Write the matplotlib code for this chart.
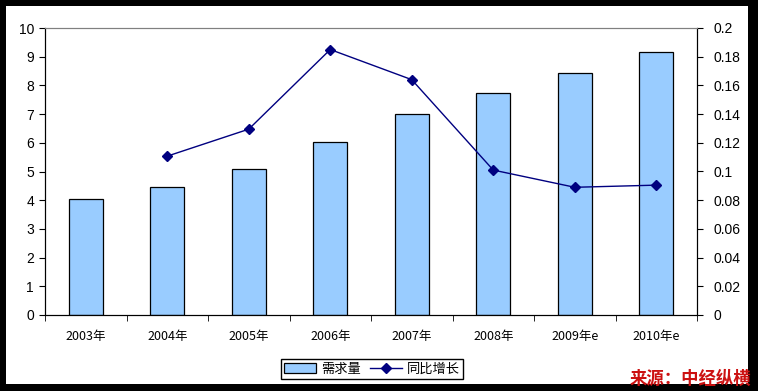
import matplotlib.pyplot as plt
from matplotlib.patches import Rectangle
from matplotlib.ticker import MultipleLocator, FixedLocator
import numpy as np

plt.rcParams['font.family'] = ['Liberation Sans', 'Noto Sans CJK SC', 'DejaVu Sans']

years = ['2003年', '2004年', '2005年', '2006年', '2007年', '2008年', '2009年e', '2010年e']
demand = [4.03, 4.45, 5.08, 6.02, 7.0, 7.73, 8.43, 9.18]
growth = [None, 0.1107, 0.1295, 0.185, 0.164, 0.101, 0.089, 0.0905]

fig = plt.figure(figsize=(7.58, 3.91), dpi=100, facecolor='black')
# white chart area inside black frame
fig.patches.append(Rectangle((6 / 758, 1 - 384 / 391), 742 / 758, 378 / 391,
                             transform=fig.transFigure, facecolor='white',
                             edgecolor='none', zorder=-5))

ax = fig.add_axes([45 / 758, 1 - 315 / 391, 652 / 758, 287 / 391])
ax.set_facecolor('white')
x = np.arange(len(years))
bars = ax.bar(x, demand, width=0.42, color='#99CCFF', edgecolor='black',
              linewidth=0.9, label='需求量', zorder=2)
ax.set_xlim(-0.5, len(years) - 0.5)
ax.set_ylim(0, 10)
ax.yaxis.set_major_locator(MultipleLocator(1))
ax.set_xticks(x)
ax.set_xticklabels(years, fontsize=9, family=['Noto Sans CJK SC', 'DejaVu Sans'])
ax.xaxis.set_minor_locator(FixedLocator(np.arange(-0.5, len(years), 1)))
ax.tick_params(axis='x', which='major', length=0, pad=11)
ax.tick_params(axis='x', which='minor', length=4, direction='out')
ax.tick_params(axis='y', length=4, direction='out', labelsize=10, pad=4)
ax.spines['top'].set_color('#808080')
for s in ['left', 'bottom', 'right']:
    ax.spines[s].set_color('black')

ax2 = ax.twinx()
gx = [i for i, g in enumerate(growth) if g is not None]
gy = [g for g in growth if g is not None]
line, = ax2.plot(gx, gy, color='#000080', linewidth=1, marker='D', markersize=5,
                 label='同比增长', zorder=3)
ax2.set_ylim(0, 0.2)
ax2.set_yticks(np.arange(0, 0.201, 0.02))
ax2.set_yticklabels(['0', '0.02', '0.04', '0.06', '0.08', '0.1', '0.12', '0.14',
                     '0.16', '0.18', '0.2'])
ax2.tick_params(axis='y', length=4, direction='out', labelsize=10, pad=8)
ax2.spines['top'].set_color('#808080')

leg = fig.legend([bars, line], ['需求量', '同比增长'], loc='center',
                 bbox_to_anchor=(372 / 758, 1 - 369 / 391), ncol=2,
                 prop={'family': ['Noto Sans CJK SC', 'DejaVu Sans'], 'size': 9.5},
                 frameon=True, fancybox=False, edgecolor='black', framealpha=1,
                 handlelength=2.4, handletextpad=0.4, columnspacing=0.7,
                 borderpad=0.25)
leg.get_frame().set_linewidth(1)

fig.text(751 / 758, 1 - 379 / 391, '来源：中经纵横', ha='right', va='center',
         color='#cc1111', fontsize=12.5, fontweight='bold',
         family=['Noto Sans CJK SC', 'DejaVu Sans'])

fig.savefig('out.png', dpi=100, facecolor='black')
